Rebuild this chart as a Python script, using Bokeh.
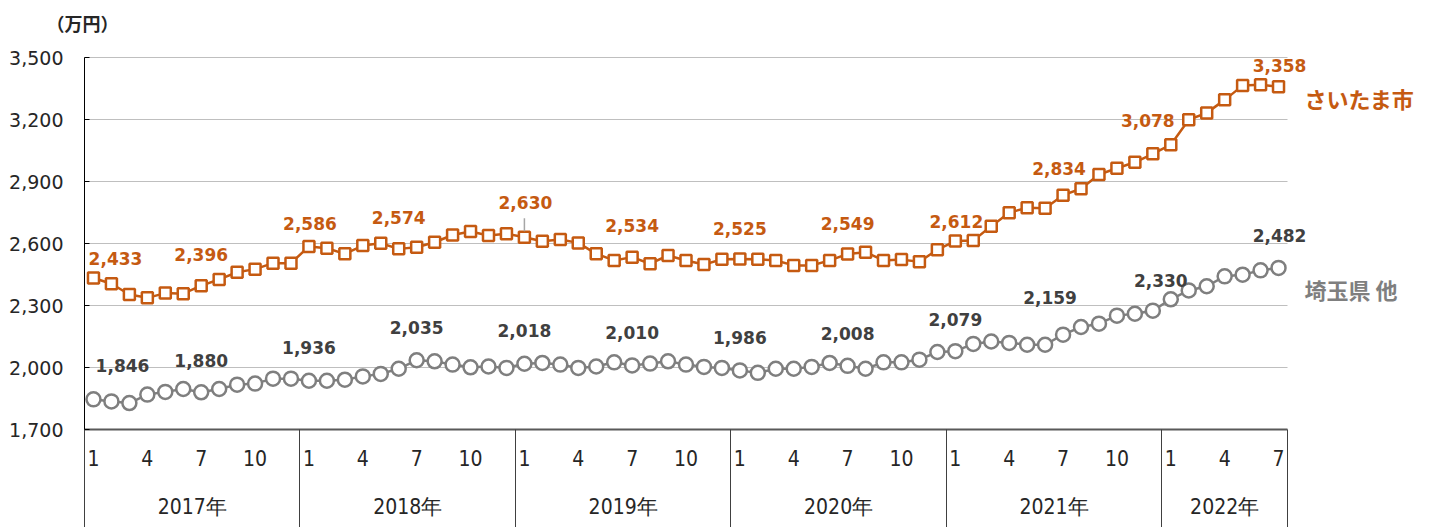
from bokeh.plotting import figure
from bokeh.models import Range1d, FixedTicker, LinearAxis, NumeralTickFormatter, ColumnDataSource
from bokeh.embed import file_html
from bokeh.resources import INLINE
from bokeh.core.properties import value

# ---------------- data ----------------
years = ["2017年", "2018年", "2019年", "2020年", "2021年", "2022年"]
months_per_year = [12, 12, 12, 12, 12, 7]
month_tick_labels = ["1", "4", "7", "10"]
unit_label = "（万円）"
series_names = ["さいたま市", "埼玉県 他"]

saitama = [
    2433, 2405, 2353, 2337, 2360, 2357, 2396, 2426, 2461, 2476, 2505, 2505,
    2586, 2577, 2550, 2590, 2601, 2574, 2582, 2606, 2641, 2658, 2639, 2647,
    2630, 2611, 2619, 2603, 2550, 2518, 2534, 2502, 2542, 2518, 2498, 2524,
    2525, 2524, 2518, 2494, 2494, 2518, 2549, 2558, 2518, 2522, 2512, 2570,
    2612, 2615, 2684, 2749, 2773, 2771, 2834, 2865, 2934, 2964, 2993, 3034,
    3078, 3199, 3232, 3295, 3364, 3368, 3358,
]
others = [
    1846, 1836, 1828, 1869, 1882, 1896, 1880, 1896, 1917, 1922, 1946, 1946,
    1936, 1936, 1941, 1957, 1969, 1994, 2035, 2030, 2014, 2001, 2005, 1998,
    2018, 2022, 2014, 1998, 2005, 2025, 2010, 2019, 2030, 2014, 2003, 1998,
    1986, 1974, 1994, 1994, 2003, 2022, 2008, 1994, 2025, 2025, 2038, 2075,
    2079, 2114, 2126, 2119, 2110, 2110, 2159, 2196, 2212, 2251, 2260, 2275,
    2330, 2373, 2393, 2441, 2449, 2470, 2482,
]
saitama_label_idx = [0, 6, 12, 17, 24, 30, 36, 42, 48, 54, 60, 66]
others_label_idx = [0, 6, 12, 18, 24, 30, 36, 42, 48, 54, 60, 66]

y_ticks = [1700, 2000, 2300, 2600, 2900, 3200, 3500]

# ---------------- styles ----------------
ORANGE = "#C55A11"
GRAY = "#7F7F7F"
DARK = "#404040"
TXT = "#262626"
NUM_FONT = "DejaVu Sans"
NARROW_FONT = "Liberation Sans Narrow, DejaVu Sans Condensed, Liberation Sans"
CJK_FONT = "Noto Sans CJK JP"

W, H = 1435, 527
FRAME_L, FRAME_B = 84, 98        # borders (px)
PLOT_W, PLOT_H = 1203, 372       # size of the data area (px)
TOP_PAD = 57                     # px above the 3,500 line (kept inside the frame)
UNIT_Y_PX = 35                   # unit label centre, px above the 3,500 line

n = len(saitama)
xs = [i + 0.5 for i in range(n)]
px_per_unit = PLOT_H / float(y_ticks[-1] - y_ticks[0])
x_extra = (W - FRAME_L - PLOT_W) * n / PLOT_W
y_top = y_ticks[-1] + TOP_PAD / px_per_unit

# pixel offsets of the data labels (dx, dy; dy positive = down)
saitama_offsets = [(22, -20), (0, -31), (1, -23), (0, -31), (1, -35), (0, -32),
                   (0, -31), (0, -31), (1, -20), (-4, -27), (-23, -24), (1, -21)]
others_offsets = [(29, -34), (0, -32), (0, -33), (0, -33), (0, -33), (0, -33),
                  (0, -33), (0, -32), (0, -32), (-13, -37), (-10, -19), (1, -32)]

p = figure(width=W, height=H, output_backend="svg", toolbar_location=None,
           title_location=None,
           x_range=Range1d(0, n + x_extra), y_range=Range1d(y_ticks[0], y_top),
           min_border_left=FRAME_L, min_border_right=0, min_border_top=0,
           min_border_bottom=FRAME_B)
p.outline_line_color = None
p.background_fill_color = "white"
p.border_fill_color = "white"

# grid (drawn only over the data area)
p.xgrid.grid_line_color = None
p.ygrid.grid_line_color = None
p.segment(x0=[0] * (len(y_ticks) - 1), y0=y_ticks[1:], x1=[n] * (len(y_ticks) - 1), y1=y_ticks[1:],
          line_color="#BFBFBF", line_width=1)

# y axis
yax = p.yaxis[0]
yax.bounds = (y_ticks[0], y_ticks[-1])
yax.ticker = FixedTicker(ticks=y_ticks)
yax.formatter = NumeralTickFormatter(format="0,0")
yax.axis_line_color = "black"
yax.axis_line_width = 1
yax.major_tick_in = 5
yax.major_tick_out = 0
yax.minor_tick_line_color = None
yax.major_tick_line_color = "black"
yax.major_label_standoff = 21
yax.major_label_text_font = NUM_FONT
yax.major_label_text_font_size = "19px"
yax.major_label_text_color = TXT

# unit label, as a second left axis with one tick above the 3,500 line
y_unit = y_ticks[-1] + UNIT_Y_PX / px_per_unit
uax = LinearAxis(ticker=FixedTicker(ticks=[y_unit]), major_label_overrides={y_unit: unit_label})
uax.axis_line_color = None
uax.major_tick_line_color = None
uax.minor_tick_line_color = None
uax.major_tick_in = 0
uax.major_tick_out = 0
uax.major_label_standoff = -112
uax.major_label_text_font = CJK_FONT
uax.major_label_text_font_style = "bold"
uax.major_label_text_font_size = "18px"
uax.major_label_text_color = TXT
p.add_layout(uax, "left")

# month axis (bottom) with year separators as long minor ticks
month_ticks = []
month_over = {}
boundaries = [0.0]
start = 0
for cnt in months_per_year:
    for lab in month_tick_labels:
        m = int(lab)
        if m <= cnt:
            t = start + m - 0.5
            month_ticks.append(t)
            month_over[t] = lab
    start += cnt
    boundaries.append(float(start))

xa = p.xaxis[0]
xa.bounds = (0, n)
xa.ticker = FixedTicker(ticks=month_ticks, minor_ticks=boundaries)
xa.major_label_overrides = month_over
xa.axis_line_color = "#595959"
xa.axis_line_width = 2
xa.major_tick_line_color = None
xa.major_tick_in = 0
xa.major_tick_out = 0
xa.minor_tick_in = 0
xa.minor_tick_out = 98
xa.minor_tick_line_color = "#404040"
xa.minor_tick_line_width = 1
xa.major_label_standoff = -78
xa.major_label_text_font = NARROW_FONT
xa.major_label_text_font_size = "21px"
xa.major_label_text_color = TXT

# year axis
year_ticks = []
year_over = {}
start = 0
for y, cnt in zip(years, months_per_year):
    c = start + cnt / 2.0
    year_ticks.append(c)
    year_over[c] = y
    start += cnt
ya = LinearAxis(ticker=FixedTicker(ticks=year_ticks), major_label_overrides=year_over, bounds=(0, n))
ya.axis_line_color = None
ya.major_tick_line_color = None
ya.minor_tick_line_color = None
ya.major_tick_in = 0
ya.major_tick_out = 0
ya.major_label_standoff = 26
ya.major_label_text_font = NARROW_FONT
ya.major_label_text_font_size = "21px"
ya.major_label_text_color = TXT
p.add_layout(ya, "below")

# series
p.line(xs, others, line_color=GRAY, line_width=2.5)
p.scatter(xs, others, marker="circle", size=14, line_color=GRAY, line_width=2.5, fill_color="white")
p.line(xs, saitama, line_color=ORANGE, line_width=2.5)
p.scatter(xs, saitama, marker="square", size=11, line_color=ORANGE, line_width=2.5, fill_color="white")

# leader line for the 2019-01 label
i_lead = saitama_label_idx[4]
p.segment(x0=[xs[i_lead]], y0=[saitama[i_lead] + 6 / px_per_unit],
          x1=[xs[i_lead]], y1=[saitama[i_lead] + 19 / px_per_unit],
          line_color="#A6A6A6", line_width=1.5)


def add_labels(vals, idx, offs, color):
    src = ColumnDataSource(dict(
        x=[xs[i] for i in idx], y=[vals[i] for i in idx],
        t=[f"{vals[i]:,}" for i in idx],
        dx=[o[0] for o in offs], dy=[o[1] for o in offs]))
    p.text(x="x", y="y", text="t", x_offset="dx", y_offset="dy", source=src,
           text_align="center", text_baseline="middle", text_color=color,
           text_font=value(NUM_FONT), text_font_style="bold", text_font_size="17px")


add_labels(saitama, saitama_label_idx, saitama_offsets, ORANGE)
add_labels(others, others_label_idx, others_offsets, DARK)

# series names at the right end of each line
p.text(x=[xs[-1]], y=[saitama[-1]], text=[series_names[0]], x_offset=26, y_offset=11,
       text_align="left", text_baseline="middle", text_color=ORANGE,
       text_font=value(CJK_FONT), text_font_style="bold", text_font_size="22px")
p.text(x=[xs[-1]], y=[others[-1]], text=[series_names[1]], x_offset=26, y_offset=21,
       text_align="left", text_baseline="middle", text_color=GRAY,
       text_font=value(CJK_FONT), text_font_style="bold", text_font_size="22px")

open("out.html", "w").write(file_html(p, INLINE))
